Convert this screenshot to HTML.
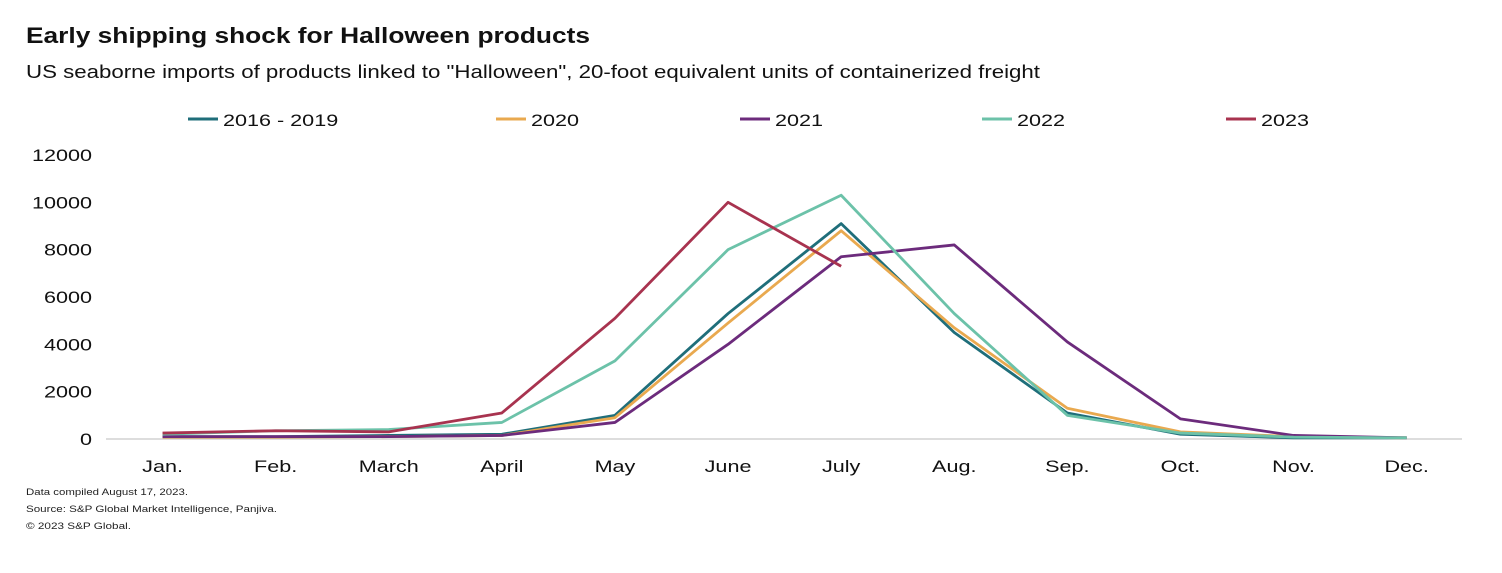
<!DOCTYPE html>
<html><head><meta charset="utf-8"><style>
body{margin:0;background:#fff;width:1502px;height:568px;overflow:hidden;font-family:"Liberation Sans",Arial,sans-serif}
</style></head><body>
<svg width="1502" height="568" font-family="Liberation Sans, Arial, sans-serif">
<text x="26" y="43" font-size="22" font-weight="bold" fill="#111" textLength="564" lengthAdjust="spacingAndGlyphs">Early shipping shock for Halloween  products</text>
<text x="26" y="78" font-size="18" fill="#111" textLength="1014" lengthAdjust="spacingAndGlyphs">US seaborne imports of products linked to "Halloween", 20-foot equivalent units of containerized freight</text>
<g id="legend"></g>
<g id="axes"></g>
<g id="lines"></g>
<text x="26" y="495" font-size="9" fill="#222" textLength="162" lengthAdjust="spacingAndGlyphs">Data compiled August 17, 2023.</text>
<text x="26" y="512" font-size="9" fill="#222" textLength="251" lengthAdjust="spacingAndGlyphs">Source: S&amp;P Global Market Intelligence, Panjiva.</text>
<text x="26" y="529" font-size="9" fill="#222" textLength="105" lengthAdjust="spacingAndGlyphs">© 2023 S&amp;P Global.</text>
</svg>
<script>
const months=["Jan.","Feb.","March","April","May","June","July","Aug.","Sep.","Oct.","Nov.","Dec."];
const yTicks=[0,2000,4000,6000,8000,10000,12000];
const seriesNames=["2016 - 2019","2020","2021","2022","2023"];
const seriesColors=["#1f6e7a","#e9a94f","#6c2b7c","#6cc2a9","#a8334f"];
const s2016=[100,100,150,200,1000,5300,9100,4500,1100,200,50,50];
const s2020=[80,80,100,150,900,4900,8800,4700,1300,300,100,50];
const s2021=[100,100,100,150,700,4000,7700,8200,4100,850,150,50];
const s2022=[200,350,400,700,3300,8000,10300,5300,1000,250,80,50];
const s2023=[250,350,300,1100,5100,10000,7300];
const allSeries=[s2016,s2020,s2021,s2022,s2023];
const NS="http://www.w3.org/2000/svg";
const x0=106,bw=113.1,yBase=439,yTop=155,yMax=12000,SX=1.27;
const X=i=>x0+bw*(i+0.5);
const Y=v=>yBase-(v/yMax)*(yBase-yTop);
function mk(t,a,p){const e=document.createElementNS(NS,t);for(const k in a)e.setAttribute(k,a[k]);p.appendChild(e);return e;}
function txt(x,y,anchor,size,p){return mk('text',{x:0,y:0,'text-anchor':anchor,'font-size':size,fill:'#111',transform:'translate('+x+','+y+') scale('+SX+',1)'},p);}
const ax=document.getElementById('axes');
const base=mk('line',{x1:x0,x2:1462,y1:yBase,y2:yBase,stroke:'#bbb','stroke-width':1},ax);


yTicks.forEach(v=>{const t=txt(92,Y(v)+6,'end',17,ax);t.textContent=v;

});
months.forEach((m,i)=>{const t=txt(X(i),472,'middle',17,ax);t.textContent=m;

});
const lg=document.getElementById('legend');
const lx=[188,496,740,982,1226];
seriesNames.forEach((n,i)=>{
const l=mk('line',{x1:lx[i],x2:lx[i]+30,y1:119,y2:119,stroke:seriesColors[i],'stroke-width':3},lg);


const t=txt(lx[i]+35,126,'start',17,lg);t.textContent=n;

});
const lines=document.getElementById('lines');
allSeries.forEach((s,k)=>{
const p=mk('polyline',{points:s.map((v,i)=>X(i)+','+Y(v)).join(' '),fill:'none',stroke:seriesColors[k],'stroke-width':2.8,'stroke-linejoin':'round'},lines);

});
</script>
</body></html>
